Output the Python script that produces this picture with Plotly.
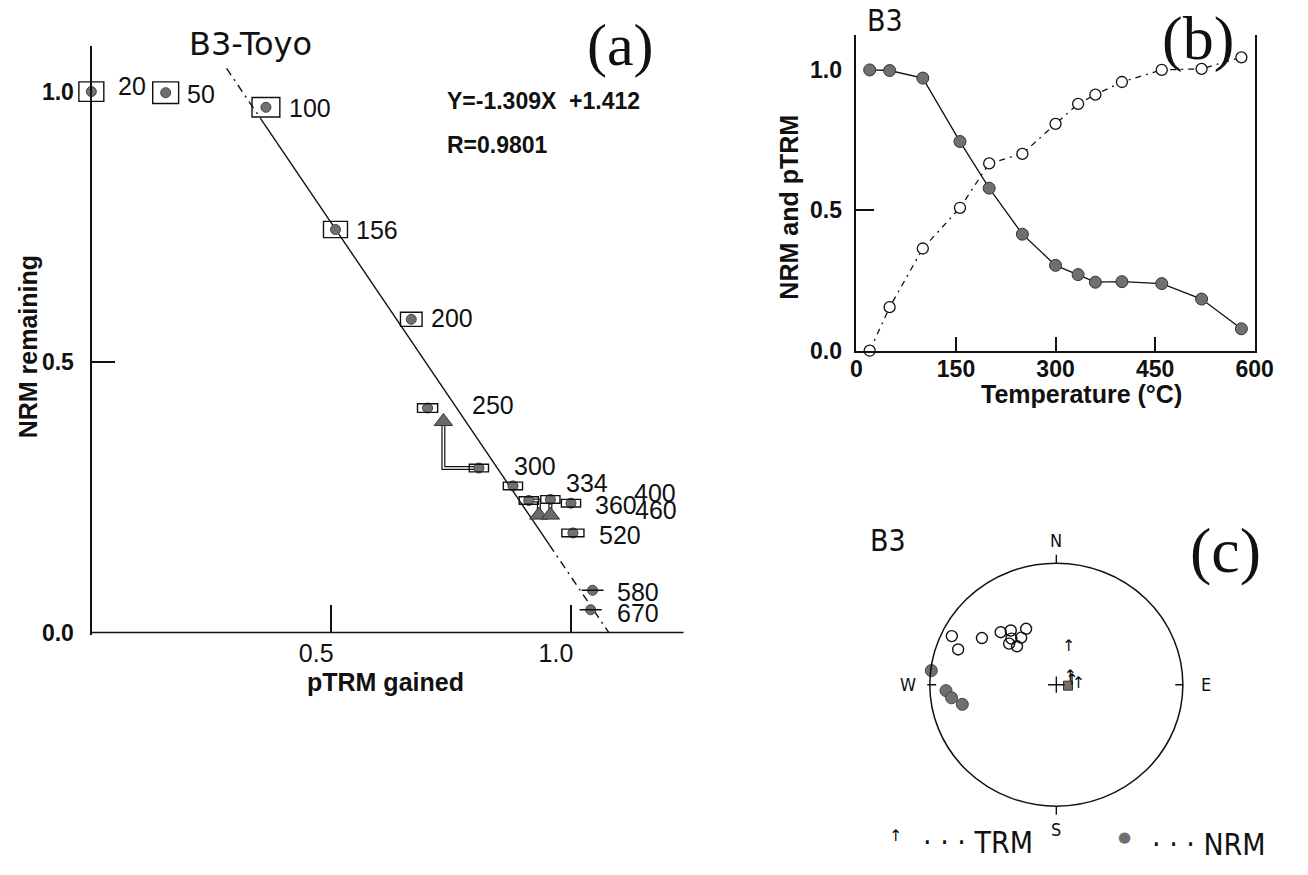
import plotly.graph_objects as go

W, H = 1308, 875

# ---------------- data ----------------
# panel (a) Arai plot and panel (b) thermal decay
temps = [20, 50, 100, 156, 200, 250, 300, 334, 360, 400, 460, 520, 580, 670]
ptrm_gained = [0.0, 0.155, 0.364, 0.509, 0.667, 0.701, 0.808, 0.879, 0.912, 0.957, 1.0, 1.004, 1.045, 1.041]
nrm_remaining = [1.0, 0.998, 0.971, 0.745, 0.579, 0.415, 0.304, 0.271, 0.244, 0.246, 0.239, 0.184, 0.078, 0.042]
box_half_w = [0.026, 0.027, 0.029, 0.025, 0.0225, 0.021, 0.020, 0.020, 0.020, 0.020, 0.020, 0.023, 0.023, 0.023]
box_half_h = [0.018, 0.020, 0.018, 0.015, 0.013, 0.008, 0.007, 0.007, 0.007, 0.007, 0.007, 0.007, 0.0, 0.0]

check_ptrm = [0.734, 0.933, 0.957]
check_nrm = [0.390, 0.217, 0.217]
check_ref_temp = [300, 360, 400]

fit_slope = -1.309
fit_intercept = 1.412
fit_r = 0.9801
fit_x_start = 0.282
fit_solid_from = 0.36
fit_solid_to = 0.955

# panel (c) equal-area projection (unit circle coordinates)
nrm_open_x = [-0.826, -0.776, -0.588, -0.440, -0.360, -0.239, -0.373, -0.311, -0.278, -0.355]
nrm_open_y = [0.400, 0.290, 0.384, 0.432, 0.446, 0.460, 0.338, 0.316, 0.387, 0.379]
nrm_fill_x = [-0.988, -0.872, -0.828, -0.743]
nrm_fill_y = [0.116, -0.049, -0.108, -0.162]
trm_x = [0.097, 0.110, 0.123, 0.174]
trm_y = [0.311, 0.067, 0.027, 0.008]
mean_x = [0.092]
mean_y = [-0.008]

# ---------------- layout helpers ----------------
def fx(p):
    return p / W


def fy(p):
    return 1 - p / H


INK = "#111111"
GRAY = "#707070"

# panel (a) geometry (pixel anchors)
A_X0, A_XS = 87, 489
A_Y0, A_YS = 642, 549
a_xr = [-0.04, 1.235]
a_yr = [-0.005, 1.085]

# panel (b) geometry
B_X0, B_X1 = 867, 1273
B_Y0, B_YS = 356, 285
b_xr = [0, 600]
b_yr = [0, 1.123]

# panel (c) geometry
C_CX, C_CY, C_RX, C_RY = 1070.8, 695, 129, 123.3
c_r = [-1.3, 1.3]

fig = go.Figure()

# ---------- panel (a) ----------
x_end = -fit_intercept / fit_slope
segs = [([fit_x_start, fit_solid_from], "8px,5px,2px,5px"),
        ([fit_solid_from, fit_solid_to], "solid"),
        ([fit_solid_to, x_end], "8px,5px,2px,5px")]
for xs, dash in segs:
    fig.add_trace(go.Scatter(x=xs, y=[fit_slope * v + fit_intercept for v in xs],
                             mode="lines", line=dict(color=INK, width=1.4, dash=dash),
                             xaxis="x", yaxis="y", hoverinfo="skip"))

# pTRM check connectors (double line)
for cx, cy, rt in zip(check_ptrm, check_nrm, check_ref_temp):
    i = temps.index(rt)
    px, py = [cx, cx, ptrm_gained[i]], [cy, nrm_remaining[i], nrm_remaining[i]]
    fig.add_trace(go.Scatter(x=px, y=py, mode="lines", line=dict(color=INK, width=4),
                             xaxis="x", yaxis="y", hoverinfo="skip"))
    fig.add_trace(go.Scatter(x=px, y=py, mode="lines", line=dict(color="white", width=1.6),
                             xaxis="x", yaxis="y", hoverinfo="skip"))

fig.add_trace(go.Scatter(x=check_ptrm, y=check_nrm, mode="markers",
                         marker=dict(symbol="triangle-up", size=16, color="#6a6a6a",
                                     line=dict(color="#333", width=1)),
                         cliponaxis=False, xaxis="x", yaxis="y"))

fig.add_trace(go.Scatter(x=ptrm_gained, y=nrm_remaining, mode="markers",
                         marker=dict(symbol="circle", size=10, color=GRAY,
                                     line=dict(color="#444", width=1)),
                         cliponaxis=False, xaxis="x", yaxis="y"))

shapes = []
for x, y, hw, hh in zip(ptrm_gained, nrm_remaining, box_half_w, box_half_h):
    if hh > 0:
        shapes.append(dict(type="rect", xref="x", yref="y", x0=x - hw, x1=x + hw,
                           y0=y - hh, y1=y + hh, line=dict(color=INK, width=1.4)))
    else:
        shapes.append(dict(type="line", xref="x", yref="y", x0=x - hw, x1=x + hw,
                           y0=y, y1=y, line=dict(color=INK, width=1.4)))
# x-axis baseline of panel (a)
shapes.append(dict(type="line", xref="x", yref="y", x0=0, x1=a_xr[1], y0=0, y1=0,
                   line=dict(color=INK, width=1.6)))

annotations = []
label_dx = [25, 19, 21, 19, 18, 42, 33, 51, 64, 82, 62, 24, 22, 24]
label_dy = [6, -1, -1, 0, 1, 3, 2, 3, -5, 6, -7, -2, -2, -3]
for t, x, y, dx, dy in zip(temps, ptrm_gained, nrm_remaining, label_dx, label_dy):
    annotations.append(dict(x=x, y=y, xref="x", yref="y", text=str(t), showarrow=False,
                            xanchor="left", yanchor="middle", xshift=dx, yshift=dy,
                            font=dict(family="Liberation Sans, Arial", size=25, color=INK)))

# ---------- panel (b) ----------
b_idx = [i for i, t in enumerate(temps) if t <= b_xr[1]]
b_t = [temps[i] for i in b_idx]
fig.add_trace(go.Scatter(x=b_t, y=[ptrm_gained[i] for i in b_idx], mode="lines+markers",
                         line=dict(color=INK, width=1.3, dash="6px,5px,2px,5px"),
                         marker=dict(symbol="circle", size=11, color="white",
                                     line=dict(color=INK, width=1.3)),
                         cliponaxis=False, xaxis="x2", yaxis="y2"))
fig.add_trace(go.Scatter(x=b_t, y=[nrm_remaining[i] for i in b_idx], mode="lines+markers",
                         line=dict(color=INK, width=1.3),
                         marker=dict(symbol="circle", size=12, color=GRAY,
                                     line=dict(color="#333", width=1)),
                         cliponaxis=False, xaxis="x2", yaxis="y2"))

# ---------- panel (c) ----------
shapes.append(dict(type="circle", xref="x3", yref="y3", x0=-1, y0=-1, x1=1, y1=1,
                   line=dict(color=INK, width=1.5)))
for x0, y0, x1, y1 in [(0, 1.0, 0, 1.07), (0, -1.0, 0, -1.07), (-1.02, 0, -0.95, 0),
                       (0.94, 0, 1.0, 0), (-0.066, 0, 0.066, 0), (0, -0.067, 0, 0.067)]:
    shapes.append(dict(type="line", xref="x3", yref="y3", x0=x0, y0=y0, x1=x1, y1=y1,
                       line=dict(color=INK, width=1.4)))

fig.add_trace(go.Scatter(x=nrm_open_x, y=nrm_open_y, mode="markers",
                         marker=dict(symbol="circle-open", size=11, color=INK, line=dict(width=1.4)),
                         xaxis="x3", yaxis="y3", cliponaxis=False))
fig.add_trace(go.Scatter(x=nrm_fill_x, y=nrm_fill_y, mode="markers",
                         marker=dict(symbol="circle", size=12, color=GRAY, line=dict(color="#444", width=1)),
                         xaxis="x3", yaxis="y3", cliponaxis=False))
fig.add_trace(go.Scatter(x=mean_x, y=mean_y, mode="markers",
                         marker=dict(symbol="square", size=9, color=GRAY, line=dict(color="#333", width=1)),
                         xaxis="x3", yaxis="y3", cliponaxis=False))
fig.add_trace(go.Scatter(x=trm_x, y=trm_y, mode="text", text=["↑"] * len(trm_x),
                         textfont=dict(family="DejaVu Sans", size=16, color=INK),
                         xaxis="x3", yaxis="y3", cliponaxis=False))

NARROW = "Liberation Sans Narrow, DejaVu Sans Condensed, Arial Narrow, sans-serif"
for txt_, xd, yd in [("N", 0, 1.19), ("S", 0, -1.19), ("W", -1.17, 0), ("E", 1.18, 0)]:
    annotations.append(dict(x=xd, y=yd, xref="x3", yref="y3", text=txt_, showarrow=False,
                            font=dict(family=NARROW, size=18, color=INK)))

# ---------- free text ----------
def txt(text, x, y, size, family, xanchor="center", bold=False, angle=0, color=INK):
    annotations.append(dict(x=fx(x), y=fy(y), xref="paper", yref="paper", text=text,
                            showarrow=False, xanchor=xanchor, yanchor="middle", textangle=angle,
                            font=dict(family=family, size=size, color=color,
                                      weight="bold" if bold else "normal")))


SANS = "Liberation Sans, Arial, sans-serif"
SERIF = "Liberation Serif, Times New Roman, serif"
txt("B3-Toyo", 249, 45, 32, "DejaVu Sans")
txt("(a)", 626, 46, 60, SERIF)
txt("Y=-1.309X\u00a0\u00a0+1.412", 448, 103, 23, SANS, xanchor="left", bold=True)
txt(f"R={fit_r}", 448, 147, 23, SANS, xanchor="left", bold=True)
txt("pTRM gained", 387, 692, 25, SANS, bold=True)
txt("NRM remaining", 22, 352, 25, SANS, bold=True, angle=-90)

txt("B3", 896, 21, 30, NARROW)
txt("(b)", 1215, 39, 62, SERIF)
txt("Temperature (°C)", 1096, 400, 25, SANS, bold=True)
txt("NRM and pTRM", 798, 210, 25, SANS, bold=True, angle=-90)

txt("B3", 899, 549, 30, NARROW)
txt("(c)", 1243, 559, 64, SERIF)
txt("↑", 907, 848, 16, "DejaVu Sans")
txt("· · · TRM", 933, 855, 30, NARROW, xanchor="left")
txt("●", 1140, 850, 15, "DejaVu Sans", color=GRAY)
txt("· · · NRM", 1166, 857, 30, NARROW, xanchor="left")

axis_common = dict(showgrid=False, zeroline=False)
fig.update_layout(
    width=W, height=H, margin=dict(l=0, r=0, t=0, b=0),
    paper_bgcolor="white", plot_bgcolor="white", showlegend=False,
    xaxis=dict(domain=[fx(A_X0 + a_xr[0] * A_XS), fx(A_X0 + a_xr[1] * A_XS)], range=a_xr,
               anchor="free", position=fy(A_Y0), showline=False,
               tickmode="array", tickvals=[0.5, 1.0], ticktext=["0.5", "1.0"],
               ticks="inside", ticklen=27, tickwidth=1.5, tickcolor=INK,
               ticklabelshift=-15, ticklabelstandoff=4,
               tickfont=dict(family=SANS, size=25, color=INK), **axis_common),
    yaxis=dict(domain=[fy(A_Y0 - a_yr[0] * A_YS), fy(A_Y0 - a_yr[1] * A_YS)], range=a_yr,
               anchor="free", position=fx(A_X0), showline=True, linewidth=1.6, linecolor=INK,
               tickmode="array", tickvals=[0, 0.5, 1.0], ticktext=["0.0", "0.5", "1.0"],
               ticks="", ticklabelstandoff=12,
               minor=dict(tickmode="array", tickvals=[0.5], ticks="inside", ticklen=23,
                          tickwidth=1.5, tickcolor=INK),
               tickfont=dict(family=SANS, size=23, color=INK, weight="bold"), **axis_common),
    xaxis2=dict(domain=[fx(B_X0), fx(B_X1)], range=b_xr, anchor="y2",
                showline=True, linewidth=1.6, linecolor=INK,
                tickmode="array", tickvals=[0, 150, 300, 450, 600],
                ticks="inside", ticklen=14, tickwidth=1.5, tickcolor=INK, ticklabelstandoff=-3,
                tickfont=dict(family=SANS, size=23, color=INK, weight="bold"), **axis_common),
    yaxis2=dict(domain=[fy(B_Y0), fy(B_Y0 - b_yr[1] * B_YS)], range=b_yr, anchor="x2",
                showline=True, mirror=True, linewidth=1.6, linecolor=INK,
                tickmode="array", tickvals=[0, 0.5, 1.0], ticktext=["0.0", "0.5", "1.0"],
                ticks="", ticklabelstandoff=8,
                minor=dict(tickmode="array", tickvals=[0.5], ticks="inside", ticklen=18,
                           tickwidth=1.5, tickcolor=INK),
                tickfont=dict(family=SANS, size=23, color=INK, weight="bold"), **axis_common),
    xaxis3=dict(domain=[fx(C_CX + c_r[0] * C_RX), fx(C_CX + c_r[1] * C_RX)], range=c_r,
                anchor="y3", visible=False, **axis_common),
    yaxis3=dict(domain=[fy(C_CY - c_r[0] * C_RY), fy(C_CY - c_r[1] * C_RY)], range=c_r,
                anchor="x3", visible=False, **axis_common),
    shapes=shapes,
    annotations=annotations,
)

fig.write_html("out.html")
